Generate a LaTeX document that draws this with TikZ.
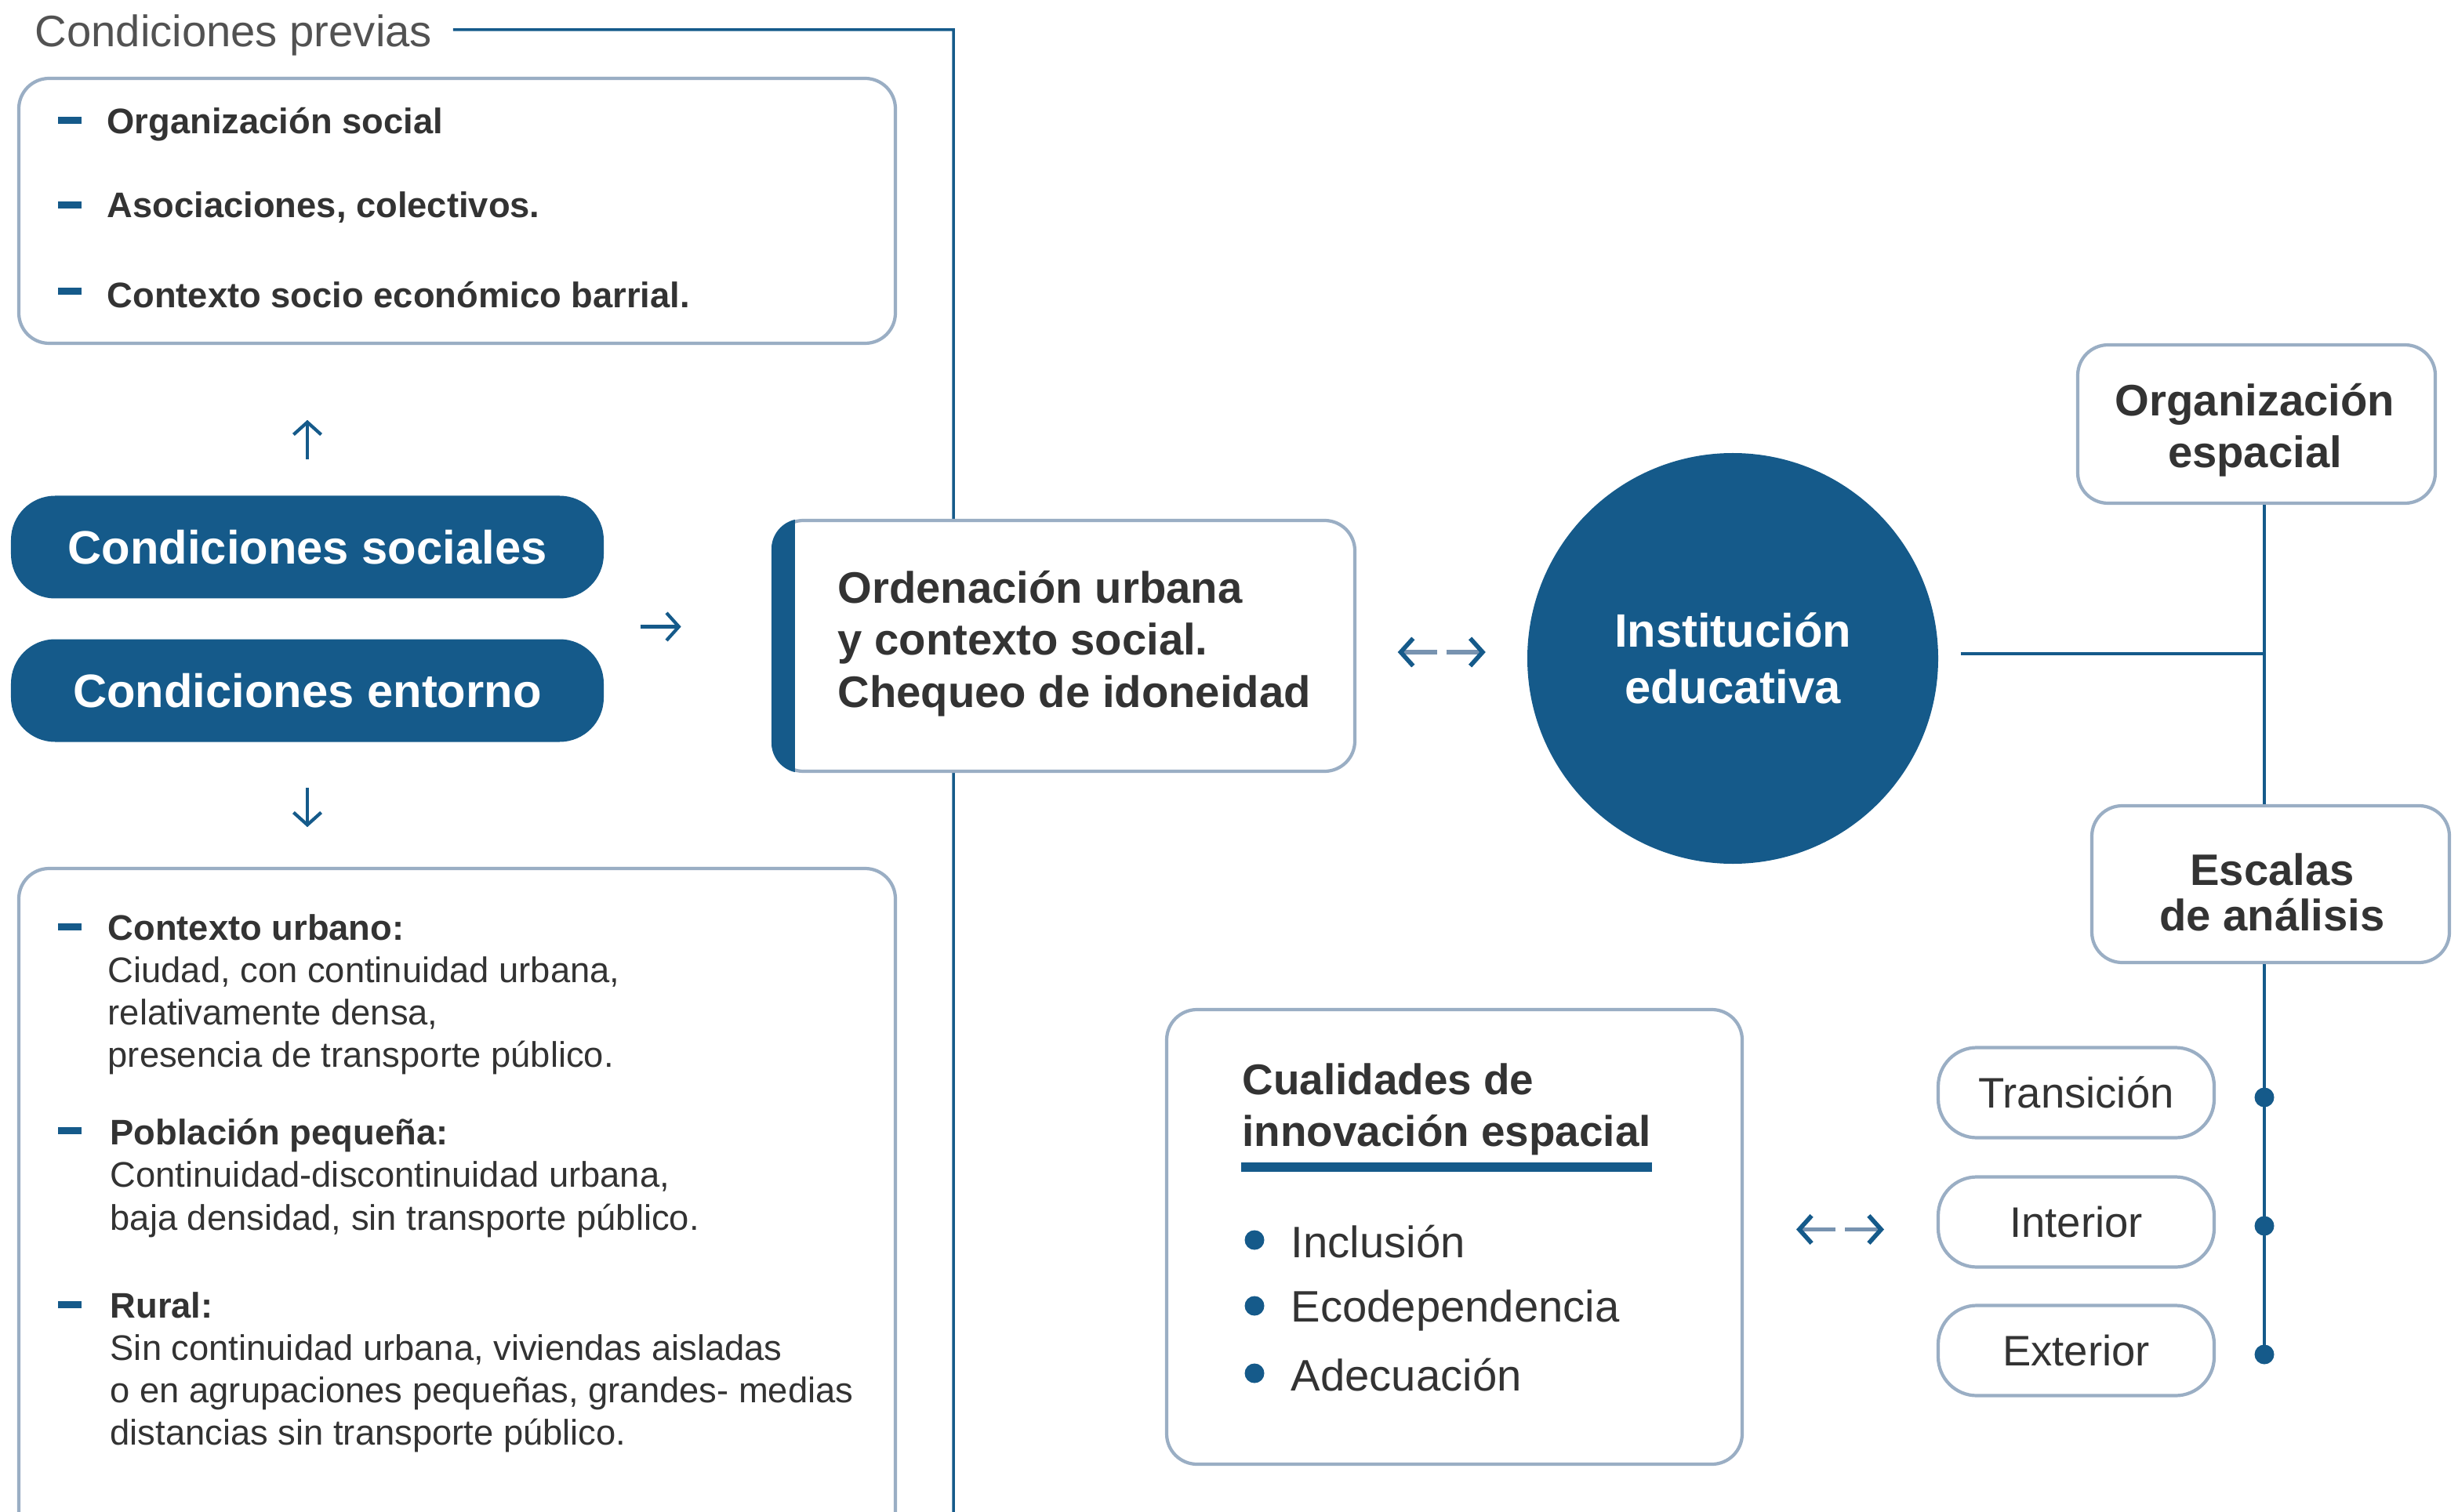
\documentclass[tikz,border=0pt]{standalone}
\usepackage{fontspec}
\setmainfont{Liberation Sans}
\usetikzlibrary{calc,arrows.meta}

\definecolor{azul}{HTML}{155A8A}
\definecolor{gristexto}{HTML}{333333}
\definecolor{borde}{HTML}{9AAEC4}
\definecolor{astil}{HTML}{7893B0}

\tikzset{
  linea/.style={draw=azul, line width=1pt},
  flecha/.style={azul, line width=1.2pt, -{Straight Barb[length=4.5pt,width=10pt]}},
  doble/.style={astil, line width=1.6pt, -{Straight Barb[length=4.5pt,width=10pt,color=azul]}},
  caja/.style={draw=borde, line width=1.2pt, fill=white, rounded corners=11pt, inner sep=0pt},
  pastilla/.style={fill=azul, rounded corners=16pt, minimum width=7.56cm, minimum height=1.31cm,
    text=white, font=\fontsize{17}{20}\selectfont\bfseries},
  opcion/.style={draw=borde, line width=1.2pt, fill=white, rounded corners=14pt, minimum width=3.52cm,
    minimum height=1.15cm, text=gristexto, font=\fontsize{15.5}{18}\selectfont},
  guion/.style={fill=azul, minimum width=0.30cm, minimum height=0.09cm, inner sep=0pt},
  punto/.style={circle, fill=azul, minimum size=0.25cm, inner sep=0pt},
  lista/.style={anchor=west, align=left, inner sep=0pt, text=gristexto, font=\fontsize{12.9}{15.4}\selectfont},
  titulo/.style={anchor=west, align=left, inner sep=0pt, text=gristexto, font=\fontsize{16}{19}\selectfont\bfseries},
}

\begin{document}
\begin{tikzpicture}
  \useasboundingbox (0,0) rectangle (31.35,-19.29);

  % Condiciones previas y linea de separacion
  \node[anchor=west, inner sep=0pt, text=gristexto!85, font=\fontsize{16}{19}\selectfont] (previas) at (0.44,-0.45) {Condiciones previas};
  \coordinate (esquina) at (12.16,-0.38);
  \coordinate (pie) at (12.16,-19.60);
  \draw[linea] ([xshift=0.26cm,yshift=0.07cm]previas.east) -- (esquina) -- (pie);

  % Caja superior
  \node[caja, minimum width=11.18cm, minimum height=3.38cm] (cajasup) at (5.83,-2.69) {};
  \node[guion] (g1) at (0.89,-1.54) {};
  \node[guion] (g2) at (0.89,-2.62) {};
  \node[guion] (g3) at (0.89,-3.72) {};
  \node[lista, font=\fontsize{12.9}{15.4}\selectfont\bfseries] (s1) at (1.36,-1.59) {Organización social};
  \node[lista, font=\fontsize{12.9}{15.4}\selectfont\bfseries] (s2) at (1.36,-2.65) {Asociaciones, colectivos.};
  \node[lista, font=\fontsize{12.9}{15.4}\selectfont\bfseries] (s3) at (1.36,-3.76) {Contexto socio económico barrial.};

  % Condiciones
  \node[pastilla] (sociales) at (3.92,-6.98) {Condiciones sociales};
  \node[pastilla] (entorno) at (3.92,-8.81) {Condiciones entorno};
  \draw[flecha] ([yshift=0.46cm]sociales.north) -- ++(0,0.50);
  \draw[flecha] ([yshift=-0.58cm]entorno.south) -- ++(0,-0.50);
  \coordinate (mc) at ($(sociales.east)!.5!(entorno.east)$);
  \draw[flecha] ([xshift=0.46cm,yshift=-0.10cm]mc) -- ++(0.52,0);

  % Caja inferior (cortada abajo)
  \node[caja, minimum width=11.18cm, minimum height=8.60cm] (cajainf) at (5.83,-15.38) {};
  \node[guion] (g4) at (0.89,-11.82) {};
  \node[guion] (g5) at (0.89,-14.42) {};
  \node[guion] (g6) at (0.89,-16.64) {};
  \node[lista] (urbano) at (1.37,-12.69) {\textbf{Contexto urbano:}\\Ciudad, con continuidad urbana,\\relativamente densa,\\presencia de transporte público.};
  \node[lista] (pequena) at (1.40,-15.03) {\textbf{Población pequeña:}\\Continuidad-discontinuidad urbana,\\baja densidad, sin transporte público.};
  \node[lista] (rural) at (1.40,-17.51) {\textbf{Rural:}\\Sin continuidad urbana, viviendas aisladas\\o en agrupaciones pequeñas, grandes- medias\\distancias sin transporte público.};

  % Ordenacion urbana
  \node[caja, minimum width=7.42cm, minimum height=3.20cm] (orden) at (13.57,-8.24) {};
  \begin{scope}
    \clip[rounded corners=11pt] (orden.north west) rectangle (orden.south east);
    \fill[azul] (orden.north west) rectangle ([xshift=0.30cm]orden.south west);
  \end{scope}
  \node[titulo, font=\fontsize{16}{19}\selectfont\bfseries] (ordentxt) at (10.68,-8.21) {Ordenación urbana\\y contexto social.\\Chequeo de idoneidad};

  % Institucion educativa
  \node[circle, fill=azul, minimum size=5.24cm, align=center, text=white, font=\fontsize{17}{20.5}\selectfont\bfseries] (inst) at (22.10,-8.40) {Institución\\educativa};
  \coordinate (m1) at ($(orden.east)!.5!(inst.west)$);
  \draw[doble] ([xshift=-0.06cm]m1) -- ++(-0.50,0);
  \draw[doble] ([xshift=0.06cm]m1) -- ++(0.50,0);

  % Organizacion espacial / escalas
  \node[caja, minimum width=4.56cm, minimum height=2.02cm, align=center, text=gristexto, font=\fontsize{16}{18.7}\selectfont\bfseries] (orgesp) at (28.78,-5.41) {};
  \node[align=center, inner sep=0pt, text=gristexto, font=\fontsize{16}{18.7}\selectfont\bfseries] (orgtxt) at (28.76,-5.49) {Organización\\espacial};
  \node[caja, minimum width=4.56cm, minimum height=2.00cm] (escalas) at (28.96,-11.28) {};
  \node[align=center, inner sep=0pt, text=gristexto, font=\fontsize{16}{16.5}\selectfont\bfseries] (esctxt) at (28.98,-11.38) {Escalas\\de análisis};
  \coordinate (eje) at (28.88,-8.34);
  \draw[linea] ([xshift=0.28cm]inst.east |- eje) -- (eje);
  \draw[linea] (eje |- orgesp.south) -- (eje |- escalas.north);

  % Escalas
  \node[opcion] (trans) at (26.48,-13.94) {Transición};
  \node[opcion] (interior) at (26.48,-15.59) {Interior};
  \node[opcion] (exterior) at (26.48,-17.23) {Exterior};
  \node[punto] (d1) at (28.88,-14.00) {};
  \node[punto] (d2) at (28.88,-15.64) {};
  \node[punto] (d3) at (28.88,-17.28) {};
  \draw[linea] (eje |- escalas.south) -- (d3.center);

  % Cualidades de innovacion espacial
  \node[caja, minimum width=7.34cm, minimum height=5.80cm] (cualidades) at (18.55,-15.78) {};
  \node[titulo, font=\fontsize{15.6}{18.7}\selectfont\bfseries] (cualtxt) at (15.84,-14.15) {Cualidades de\\innovación espacial};
  \node[fill=azul, minimum width=5.24cm, minimum height=0.12cm, inner sep=0pt, anchor=north west] (barra) at (15.82,-14.82) {};
  \node[punto] (b1) at (16.00,-15.82) {};
  \node[punto] (b2) at (16.00,-16.66) {};
  \node[punto] (b3) at (16.00,-17.52) {};
  \node[lista, font=\fontsize{16}{19}\selectfont] (inclusion) at (16.46,-15.84) {Inclusión};
  \node[lista, font=\fontsize{16}{19}\selectfont] (ecodep) at (16.46,-16.72) {Ecodependencia};
  \node[lista, font=\fontsize{16}{19}\selectfont] (adecuacion) at (16.46,-17.54) {Adecuación};
  \coordinate (m2) at ($(cualidades.east)!.5!(interior.west)$);
  \draw[doble] ([xshift=-0.06cm]m2) -- ++(-0.50,0);
  \draw[doble] ([xshift=0.06cm]m2) -- ++(0.50,0);
\end{tikzpicture}
\end{document}
